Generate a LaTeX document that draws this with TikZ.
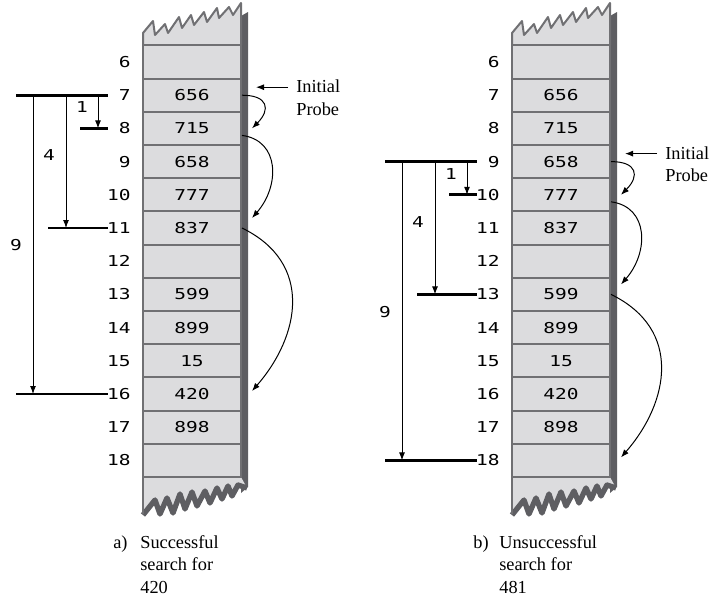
\documentclass[tikz,border=0pt]{standalone}
\usepackage{fontspec}
\setmainfont{Liberation Serif}
\newfontfamily\cellfont[FakeStretch=1.3]{DejaVu Sans Mono}
\usetikzlibrary{arrows.meta,calc}

\definecolor{slotfill}{RGB}{220,220,222}
\definecolor{slotline}{RGB}{112,112,115}
\definecolor{slotshade}{RGB}{94,94,98}

\newcommand\tornTop{(\L,33) -- (\L+10,21) -- (\L+12,35) -- (\L+22,24) -- (\L+25,33) -- (\L+36,17) -- (\L+39,28) -- (\L+48,15) -- (\L+51,25) -- (\L+61,12) -- (\L+64,22) -- (\L+74,8) -- (\L+76,18) -- (\L+86,7) -- (\L+90,15) -- (\L+98,3)}
\newcommand\tornBottom{(\L,515) -- (\L+12,500) -- (\L+17,514) -- (\L+24,498) -- (\L+30,513) -- (\L+37,494) -- (\L+42,509) -- (\L+49,492) -- (\L+54,506) -- (\L+62,491) -- (\L+67,503) -- (\L+74,488) -- (\L+79,499) -- (\L+85,486) -- (\L+89,496) -- (\L+95,485) -- (\L+104,488)}

\tikzset{
  slot/.style={draw=slotline, fill=slotfill, line width=1.2pt, inner sep=0pt,
    minimum width=58.8pt, minimum height=19.9pt, font=\cellfont\fontsize{9}{9}\selectfont},
  idx/.style={anchor=east, inner sep=0pt, font=\cellfont\fontsize{9}{9}\selectfont},
  bar/.style={line width=1.6pt},
  jump/.style={line width=0.6pt, -{Latex[length=4.8pt,width=3.6pt]}},
  note/.style={inner sep=0pt, align=left, font=\fontsize{11}{13.5}\selectfont},
}

\begin{document}
\begin{tikzpicture}[x=0.6pt, y=-0.6pt]
  \useasboundingbox (0,0) rectangle (712,597);

  \foreach \n/\L/\s in {a/143/7,b/512/9}{
    % torn ends of the table and its shadow
    \fill[slotshade] (\L+98,16) -- (\L+105,12) -- (\L+105,487) -- (\L+98,493) -- cycle;
    \filldraw[fill=slotfill, draw=slotline, line width=1.2pt, line join=round]
      (\L,45) -- \tornTop -- (\L+98,45) -- cycle;
    \fill[slotfill] (\L,477) -- \tornBottom -- (\L+98,477) -- cycle;
    \draw[slotshade, line width=3.2pt, line join=round] \tornBottom;
    \draw[slotline, line width=1.2pt] (\L,477) -- (\L,514);

    \foreach \i/\v in {6/{},7/656,8/715,9/658,10/777,11/837,12/{},13/599,14/899,15/15,16/420,17/898,18/{}}{
      \node[slot] (\n\i) at (\L+49,{62+(\i-6)*33.2}) {\v};
      \node[idx] (i\n\i) at (\L-12,{62+(\i-6)*33.2}) {\i};
    }

    \pgfmathsetmacro\ys{62+(\s-6)*33.2}
    \pgfmathtruncatemacro\sa{\s+1}
    \pgfmathtruncatemacro\sb{\s+4}
    \pgfmathtruncatemacro\sc{\s+9}

    % probe distances
    \coordinate (\n-e9) at (\L-127,0);
    \coordinate (\n-e4) at (\L-95,0);
    \coordinate (\n-e1) at (\L-63,0);
    \coordinate (\n-r) at (\L-35,0);
    \coordinate (\n-c9) at (\L-110,0);
    \coordinate (\n-c4) at (\L-77,0);
    \coordinate (\n-c1) at (\L-45,0);
    \draw[bar] (\n-e9 |- \n\s) -- (\n-r |- \n\s);
    \draw[bar] (\n-e1 |- \n\sa) -- (\n-r |- \n\sa);
    \draw[bar] (\n-e4 |- \n\sb) -- (\n-r |- \n\sb);
    \draw[bar] (\n-e9 |- \n\sc) -- (\n-r |- \n\sc);
    \draw[jump] (\n-c1 |- \n\s) -- (\n-c1 |- \n\sa);
    \draw[jump] (\n-c4 |- \n\s) -- (\n-c4 |- \n\sb);
    \draw[jump] (\n-c9 |- \n\s) -- (\n-c9 |- \n\sc);
    \node[idx, anchor=center] (\n-k1) at (\L-61,\ys+12) {1};
    \node[idx, anchor=center] (\n-k4) at (\L-94,\ys+60) {4};
    \node[idx, anchor=center] (\n-k9) at (\L-127,\ys+150) {9};

    % initial probe and the jumps
    \node[note, anchor=west] (\n-ip) at (\L+153,\ys+2.5) {Initial\\Probe};
    \coordinate (\n-pt) at (\L+145,\ys-8);
    \coordinate (\n-ph) at (\L+113,\ys-8);
    \draw[jump] (\n-pt) -- (\n-ph);
    \draw[jump] (\n\s.east) .. controls +(26,0) and +(19,-19) .. ($(\n\sa.east)+(10,0)$);
    \draw[jump] ($(\n\sa.east)+(0,7)$) .. controls +(38,5) and +(28,-32) .. ($(\n\sb.east)+(10,-10)$);
    \draw[jump] (\n\sb.east) .. controls +(72,35) and +(48,-55) .. ($(\n\sc.east)+(10,-3)$);
  }

  \node[note, anchor=north west] (cap-a) at (113,535) {a)};
  \node[note, anchor=north west] (txt-a) at (140,535) {Successful\\search for\\420};
  \node[note, anchor=north west] (cap-b) at (473,535) {b)};
  \node[note, anchor=north west] (txt-b) at (499,535) {Unsuccessful\\search for\\481};
\end{tikzpicture}
\end{document}
